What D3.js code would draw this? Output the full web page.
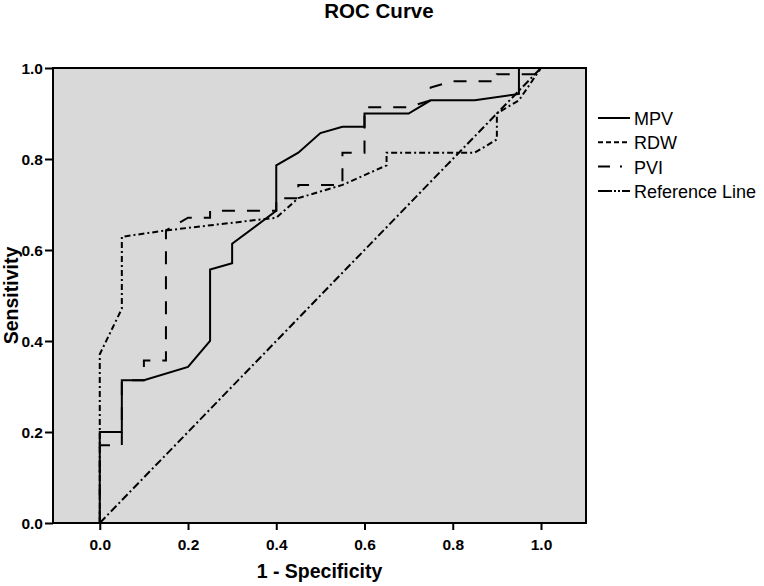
<!DOCTYPE html>
<html>
<head>
<meta charset="utf-8">
<script src="https://cdn.jsdelivr.net/npm/d3@7"></script>
<style>
  body { margin: 0; background: #fff; }
  text { font-family: "Liberation Sans", Arial, sans-serif; }
</style>
</head>
<body>
<div id="visual-container"></div>
<script>
// values: 1 - specificity (x) and sensitivity (y)
const mpvX = [0, 0, 0.05, 0.05, 0.1, 0.2, 0.25, 0.25, 0.3, 0.3, 0.4, 0.4, 0.45, 0.5, 0.55, 0.6, 0.6, 0.7, 0.75, 0.85, 0.95, 0.95, 1]
const mpvY = [0, 0.2, 0.2, 0.314, 0.314, 0.343, 0.4, 0.557, 0.571, 0.614, 0.686, 0.786, 0.814, 0.857, 0.871, 0.871, 0.9, 0.9, 0.929, 0.929, 0.943, 1, 1]

const rdwX = [0, 0, 0.05, 0.05, 0.15, 0.4, 0.45, 0.55, 0.65, 0.65, 0.85, 0.9, 0.9, 0.95, 1]
const rdwY = [0, 0.371, 0.471, 0.629, 0.643, 0.671, 0.714, 0.743, 0.786, 0.814, 0.814, 0.843, 0.9, 0.929, 1]

const pviX = [0, 0, 0.05, 0.05, 0.1, 0.1, 0.15, 0.15, 0.2, 0.25, 0.25, 0.4, 0.4, 0.45, 0.45, 0.55, 0.55, 0.6, 0.6, 0.7, 0.75, 0.75, 0.8, 0.9, 0.9, 1, 1]
const pviY = [0, 0.171, 0.171, 0.314, 0.314, 0.357, 0.357, 0.643, 0.671, 0.671, 0.686, 0.686, 0.714, 0.714, 0.743, 0.743, 0.814, 0.814, 0.914, 0.914, 0.929, 0.957, 0.971, 0.971, 0.986, 0.986, 1]

const refX = [0, 1]
const refY = [0, 1]

const seriesNames = ['MPV', 'RDW', 'PVI', 'Reference Line']
const tickValues = [0, 0.2, 0.4, 0.6, 0.8, 1.0]

const width = 764
const height = 586
const plotLeft = 53
const plotRight = 586
const plotTop = 68
const plotBottom = 523

const svg = d3.select('#visual-container')
              .append('svg')
              .attr('width', width)
              .attr('height', height)

const xScale = d3.scaleLinear()
                 .domain([-0.106, 1.102])
                 .range([plotLeft, plotRight])

const yScale = d3.scaleLinear()
                 .domain([0, 1])
                 .range([plotBottom, plotTop])

// plot background
svg.append('rect')
   .attr('x', plotLeft)
   .attr('y', plotTop)
   .attr('width', plotRight - plotLeft)
   .attr('height', plotBottom - plotTop)
   .attr('fill', '#d9d9d9')

const line = d3.line()
               .x(d => xScale(d[0]))
               .y(d => yScale(d[1]))

// line styles for plot and legend
const styles = [
    { data: d3.zip(mpvX, mpvY), dash: null, legendDash: null },
    { data: d3.zip(rdwX, rdwY), dash: '6,3,2,3', legendDash: '5,3' },
    { data: d3.zip(pviX, pviY), dash: '13,12', legendDash: '12,10,2,10' },
    { data: d3.zip(refX, refY), dash: '8,3,2,3', legendDash: '14,2,2,2,2,2' }
]

svg.selectAll('path.roc')
   .data(styles)
   .enter()
   .append('path')
   .attr('class', 'roc')
   .attr('d', d => line(d.data))
   .attr('fill', 'none')
   .attr('stroke', '#000')
   .attr('stroke-width', 2)
   .attr('stroke-dasharray', d => d.dash)

// frame
svg.append('rect')
   .attr('x', plotLeft)
   .attr('y', plotTop)
   .attr('width', plotRight - plotLeft)
   .attr('height', plotBottom - plotTop)
   .attr('fill', 'none')
   .attr('stroke', '#000')
   .attr('stroke-width', 2)

const xAxis = d3.axisBottom(xScale)
                .tickValues(tickValues)
                .tickFormat(d3.format('.1f'))
                .tickSize(7)
                .tickSizeOuter(0)

const gx = svg.append('g')
              .attr('transform', `translate(0, ${plotBottom})`)
              .call(xAxis)

const yAxis = d3.axisLeft(yScale)
                .tickValues(tickValues)
                .tickFormat(d3.format('.1f'))
                .tickSize(8)
                .tickSizeOuter(0)

const gy = svg.append('g')
              .attr('transform', `translate(${plotLeft}, 0)`)
              .call(yAxis)

for (const g of [gx, gy]) {
    g.select('.domain').remove()
    g.selectAll('line').attr('stroke', '#000').attr('stroke-width', 2)
    g.selectAll('text')
     .attr('fill', '#000')
     .style('font-family', '"Liberation Sans", Arial, sans-serif')
     .style('font-size', '15.5px')
     .style('font-weight', 'bold')
}
gx.selectAll('text').attr('dy', '1.1em')
gy.selectAll('text').attr('x', -10).attr('dy', '0.36em')

// titles
svg.append('text')
   .attr('x', 379)
   .attr('y', 18)
   .attr('text-anchor', 'middle')
   .style('font-size', '20.5px')
   .style('font-weight', 'bold')
   .text('ROC Curve')

svg.append('text')
   .attr('x', (plotLeft + plotRight) / 2)
   .attr('y', 578)
   .attr('text-anchor', 'middle')
   .style('font-size', '19.5px')
   .style('font-weight', 'bold')
   .text('1 - Specificity')

svg.append('text')
   .attr('transform', `translate(18, ${(plotTop + plotBottom) / 2}) rotate(-90)`)
   .attr('text-anchor', 'middle')
   .style('font-size', '19.5px')
   .style('font-weight', 'bold')
   .text('Sensitivity')

// legend
const legend = svg.append('g')
const rowY = i => 118 + i * 24.3

legend.selectAll('line')
      .data(styles)
      .enter()
      .append('line')
      .attr('x1', 598)
      .attr('x2', 630)
      .attr('y1', (d, i) => rowY(i))
      .attr('y2', (d, i) => rowY(i))
      .attr('stroke', '#000')
      .attr('stroke-width', 2)
      .attr('stroke-dasharray', d => d.legendDash)

legend.selectAll('text')
      .data(seriesNames)
      .enter()
      .append('text')
      .attr('x', 634)
      .attr('y', (d, i) => rowY(i) + 7)
      .style('font-size', '18px')
      .text(d => d)
</script>
</body>
</html>
